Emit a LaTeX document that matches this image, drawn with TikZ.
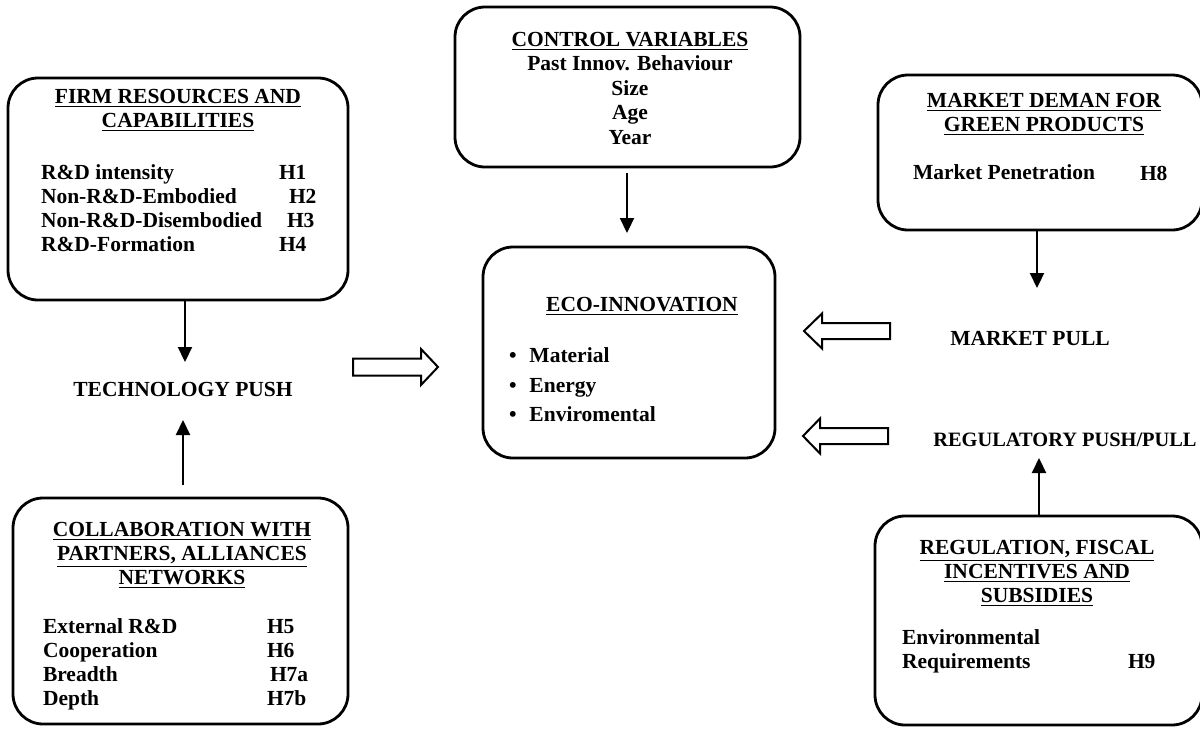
\documentclass[tikz,border=0pt]{standalone}
\usepackage{fontspec}
\setmainfont{Liberation Serif}
\usetikzlibrary{arrows.meta}
\begin{document}
\begin{tikzpicture}[x=0.5pt,y=-0.5pt,
  box/.style={draw,line width=1.4pt,rounded corners=15pt,anchor=north west,outer sep=0pt,inner sep=0pt},
  txt/.style={inner sep=0pt,outer sep=0pt,font=\fontsize{10.75}{12}\selectfont\bfseries},
  arr/.style={line width=1.1pt,-{Triangle[width=7pt,length=7.5pt]}},
  hollow/.style={draw,line width=1pt,line join=miter}
]
\useasboundingbox (0,0) rectangle (1200,729);

% Firm resources box
\node[box,minimum width=170pt,minimum height=111pt] (firm) at (8,78) {};
\node[txt,align=center,anchor=north] (firmT) at (178,89) {\underline{FIRM RESOURCES AND}\\\underline{CAPABILITIES}};
\node[txt,align=left,anchor=north west] (firmI) at (41,165) {R\&D intensity\\Non-R\&D-Embodied\\Non-R\&D-Disembodied\\R\&D-Formation};
\node[txt,align=left,anchor=north west] (firmH) at (279,165) {H1\\\hspace*{5pt}H2\\\hspace*{4pt}H3\\H4};

% Technology push
\node[txt,anchor=north] (tech) at (183,382) {TECHNOLOGY PUSH};

% Collaboration box
\node[box,minimum width=167.5pt,minimum height=113pt] (collab) at (13,498) {};
\node[txt,align=center,anchor=north] (collabT) at (182,522) {\underline{COLLABORATION WITH}\\\underline{PARTNERS, ALLIANCES}\\\underline{NETWORKS}};
\node[txt,align=left,anchor=north west] (collabI) at (43,619) {External R\&D\\Cooperation\\Breadth\\Depth};
\node[txt,align=left,anchor=north west] (collabH) at (267,619) {H5\\H6\\\hspace*{1.5pt}H7a\\H7b};

% Control variables box
\node[box,minimum width=172.5pt,minimum height=80pt] (ctrl) at (455,7) {};
\node[txt,align=center,anchor=north,font=\fontsize{10.75}{12.25}\selectfont\bfseries] (ctrlT) at (630,32) {\underline{CONTROL VARIABLES}\\Past Innov. Behaviour\\Size\\Age\\Year};

% Eco-innovation box
\node[box,minimum width=146pt,minimum height=105.5pt] (eco) at (483,247) {};
\node[txt,anchor=north] (ecoT) at (642,297) {\underline{ECO-INNOVATION}};
\node[txt,align=left,anchor=north west] (ecoI) at (509,348) {\makebox[10.25pt][l]{\textbullet}Material\\[2.75pt]\makebox[10.25pt][l]{\textbullet}Energy\\[2.75pt]\makebox[10.25pt][l]{\textbullet}Enviromental};

% Market demand box
\node[box,minimum width=162pt,minimum height=77.5pt] (market) at (878,75) {};
\node[txt,align=center,anchor=north] (marketT) at (1044,93) {\underline{MARKET DEMAN FOR}\\\underline{GREEN PRODUCTS}};
\node[txt,anchor=north west] (marketI) at (913,165) {Market Penetration};
\node[txt,anchor=north west] (marketH) at (1140,166) {H8};

\node[txt,anchor=north] (mpull) at (1030,331) {MARKET PULL};
\node[txt,anchor=north,font=\fontsize{10.2}{12}\selectfont\bfseries] (rpush) at (1065,433) {REGULATORY PUSH/PULL};

% Regulation box
\node[box,minimum width=163.5pt,minimum height=104.5pt] (regul) at (875,516) {};
\node[txt,align=center,anchor=north] (regulT) at (1037,540) {\underline{REGULATION, FISCAL}\\\underline{INCENTIVES AND}\\\underline{SUBSIDIES}};
\node[txt,align=left,anchor=north west] (regulI) at (902,630) {Environmental\\Requirements};
\node[txt,anchor=north west] (regulH) at (1128,654) {H9};

% Arrows
\coordinate (tpT) at (185,362);
\draw[arr] (firm.south -| tpT) -- (tpT);
\coordinate (tpB) at (183,420);
\draw[arr] ([yshift=6.5pt]collab.north -| tpB) -- (tpB);
\coordinate (cvT) at (627,233);
\draw[arr] ([yshift=-3pt]ctrl.south -| cvT) -- (cvT);
\coordinate (mpT) at (1037,288);
\draw[arr] (market.south -| mpT) -- (mpT);
\coordinate (rpT) at (1039,458);
\draw[arr] (regul.north -| rpT) -- (rpT);

% Hollow block arrows
\draw[hollow] (353,358.5) -- (421,358.5) -- (421,349) -- (438,367) -- (421,385) -- (421,375.5) -- (353,375.5) -- cycle;
\draw[hollow] (890,323) -- (822,323) -- (822,313.5) -- (804,331) -- (822,348.5) -- (822,339) -- (890,339) -- cycle;
\draw[hollow] (888,428) -- (820,428) -- (820,418.5) -- (803,436) -- (820,453.5) -- (820,444) -- (888,444) -- cycle;
\end{tikzpicture}
\end{document}
